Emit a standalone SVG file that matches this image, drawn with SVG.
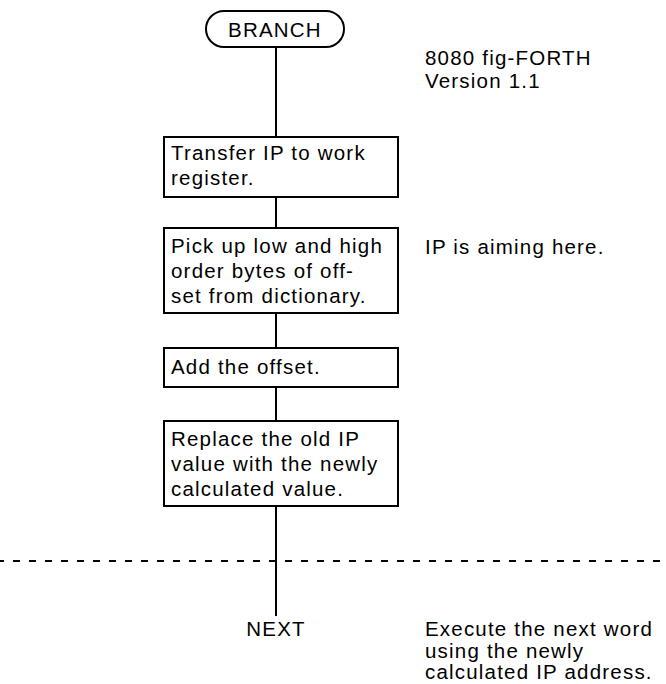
<svg xmlns="http://www.w3.org/2000/svg" width="666" height="684" viewBox="0 0 666 684">
<style>
  .box { fill: #fff; stroke: #000; stroke-width: 2; }
  .t { font-family: "Liberation Sans", Arial, sans-serif; font-size: 20.5px; fill: #000; letter-spacing: 1.2px; }
  .c { text-anchor: middle; }
  .wire { stroke: #000; stroke-width: 2; fill: none; }
  .dash { stroke: #000; stroke-width: 2; stroke-dasharray: 7 9; fill: none; }
</style>
<rect width="666" height="684" fill="#fff"/>
<g id="connectors">
  <line class="wire" x1="276" y1="47" x2="276" y2="137"/>
  <line class="wire" x1="276" y1="197" x2="276" y2="228"/>
  <line class="wire" x1="276" y1="313" x2="276" y2="348"/>
  <line class="wire" x1="276" y1="387" x2="276" y2="421"/>
  <line class="wire" x1="276" y1="506" x2="276" y2="616"/>
</g>
<line id="boundary" class="dash" x1="-3" y1="561" x2="666" y2="561"/>
<g id="branch">
  <rect class="box" x="206" y="11" width="138" height="36" rx="18"/>
  <text class="t c" x="275" y="37">BRANCH</text>
</g>
<g id="version">
  <text class="t" x="425" y="65">8080 fig-FORTH</text>
  <text class="t" x="425" y="88">Version 1.1</text>
</g>
<g id="box1">
  <rect class="box" x="164" y="137" width="234" height="60"/>
  <text class="t" x="171" y="160">Transfer IP to work</text>
  <text class="t" x="171" y="185">register.</text>
</g>
<g id="box2">
  <rect class="box" x="164" y="228" width="234" height="85"/>
  <text class="t" x="171" y="253">Pick up low and high</text>
  <text class="t" x="171" y="278">order bytes of off-</text>
  <text class="t" x="171" y="303">set from dictionary.</text>
</g>
<g id="note-ip">
  <text class="t" x="425" y="254">IP is aiming here.</text>
</g>
<g id="box3">
  <rect class="box" x="164" y="348" width="234" height="39"/>
  <text class="t" x="171" y="374">Add the offset.</text>
</g>
<g id="box4">
  <rect class="box" x="164" y="421" width="234" height="85"/>
  <text class="t" x="171" y="446">Replace the old IP</text>
  <text class="t" x="171" y="471">value with the newly</text>
  <text class="t" x="171" y="496">calculated value.</text>
</g>
<g id="next">
  <text class="t c" x="276" y="636">NEXT</text>
</g>
<g id="note-next">
  <text class="t" x="425" y="636">Execute the next word</text>
  <text class="t" x="425" y="658">using the newly</text>
  <text class="t" x="425" y="679">calculated IP address.</text>
</g>
</svg>
